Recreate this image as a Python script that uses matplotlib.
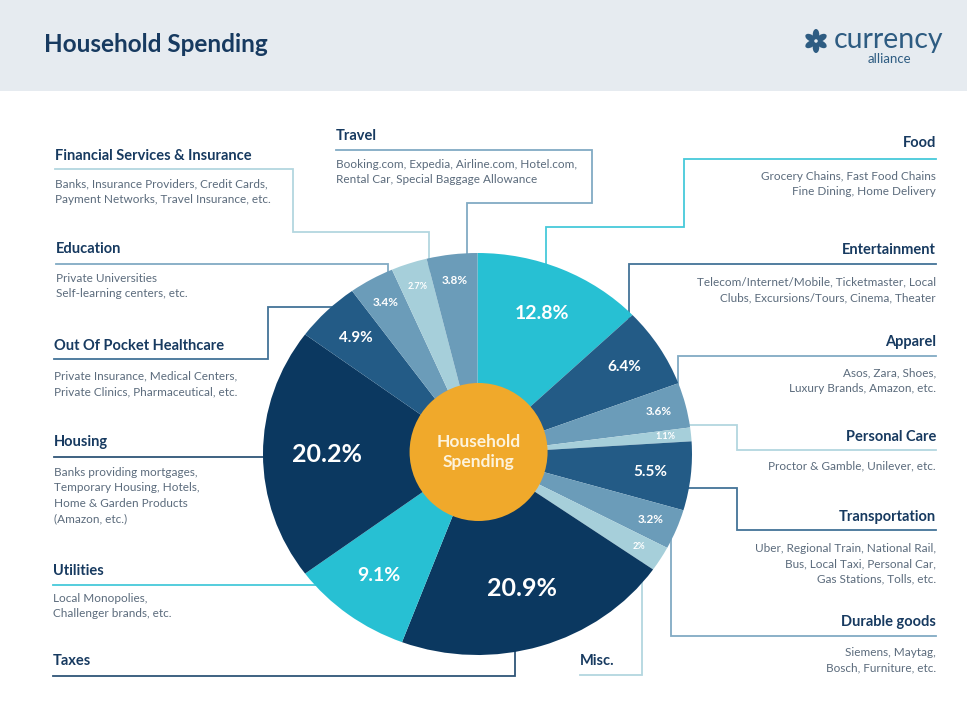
import numpy as np
import matplotlib
matplotlib.use("Agg")
import matplotlib.pyplot as plt
from matplotlib.patches import Rectangle, Ellipse

# slices, clockwise from 12 o'clock
categories = ["Food", "Entertainment", "Apparel", "Personal Care", "Transportation",
              "Durable goods", "Misc.", "Taxes", "Utilities", "Housing",
              "Out Of Pocket Healthcare", "Education",
              "Financial Services & Insurance", "Travel"]
values = [12.8, 6.4, 3.6, 1.1, 5.5, 3.2, 2, 20.9, 9.1, 20.2, 4.9, 3.4, 2.7, 3.8]
descriptions = {
    "Food": ["Grocery Chains, Fast Food Chains", "Fine Dining, Home Delivery"],
    "Entertainment": ["Telecom/Internet/Mobile, Ticketmaster, Local",
                      "Clubs, Excursions/Tours, Cinema, Theater"],
    "Apparel": ["Asos, Zara, Shoes,", "Luxury Brands, Amazon, etc."],
    "Personal Care": ["Proctor & Gamble, Unilever, etc."],
    "Transportation": ["Uber, Regional Train, National Rail,", "Bus, Local Taxi, Personal Car,",
                       "Gas Stations, Tolls, etc."],
    "Durable goods": ["Siemens, Maytag,", "Bosch, Furniture, etc."],
    "Misc.": [],
    "Taxes": [],
    "Utilities": ["Local Monopolies,", "Challenger brands, etc."],
    "Housing": ["Banks providing mortgages,", "Temporary Housing, Hotels,",
                "Home & Garden Products", "(Amazon, etc.)"],
    "Out Of Pocket Healthcare": ["Private Insurance, Medical Centers,",
                                 "Private Clinics, Pharmaceutical, etc."],
    "Education": ["Private Universities", "Self-learning centers, etc."],
    "Financial Services & Insurance": ["Banks, Insurance Providers, Credit Cards,",
                                       "Payment Networks, Travel Insurance, etc."],
    "Travel": ["Booking.com, Expedia, Airline.com, Hotel.com,",
               "Rental Car, Special Baggage Allowance"],
}

CYAN = "#27c0d3"
NAVY = "#0b3860"
MID = "#235b86"
STEEL = "#6b9cb9"
LIGHT = "#a6cfda"
colors = [CYAN, MID, STEEL, LIGHT, MID, STEEL, LIGHT, NAVY, CYAN, NAVY, MID, STEEL, LIGHT, STEEL]

HEAD = "#173a60"
DESC = "#5b6b7c"

# label layout in pixels: (x, y of heading, ha, y of first description line)
layout = {
    "Financial Services & Insurance": (55, 156, "left", 184),
    "Travel": (336, 136, "left", 164),
    "Education": (56, 249, "left", 278),
    "Out Of Pocket Healthcare": (54, 346, "left", 376),
    "Housing": (54, 442, "left", 472),
    "Utilities": (53, 571, "left", 598),
    "Taxes": (53, 661, "left", 0),
    "Misc.": (580, 661, "left", 0),
    "Food": (936, 143, "right", 176),
    "Entertainment": (936, 250, "right", 282),
    "Apparel": (936, 342, "right", 373),
    "Personal Care": (936, 437, "right", 466),
    "Transportation": (936, 517, "right", 548),
    "Durable goods": (936, 622, "right", 652),
}
connectors = {
    "Financial Services & Insurance": [(55, 169), (293, 169), (293, 232), (429, 232), (429, 290)],
    "Travel": [(336, 150), (592, 150), (592, 203), (467, 203), (467, 290)],
    "Education": [(56, 264), (388, 264), (388, 300)],
    "Out Of Pocket Healthcare": [(54, 359), (268, 359), (268, 307), (345, 307)],
    "Housing": [(54, 457), (300, 457)],
    "Utilities": [(53, 585), (330, 585)],
    "Taxes": [(53, 676), (515, 676), (515, 640)],
    "Misc.": [(580, 675), (642, 675), (642, 560)],
    "Food": [(936, 159), (684, 159), (684, 227), (546, 227), (546, 280)],
    "Entertainment": [(936, 264), (629, 264), (629, 320)],
    "Apparel": [(936, 356), (678, 356), (678, 390)],
    "Personal Care": [(936, 450), (737, 450), (737, 425), (670, 425)],
    "Transportation": [(936, 530), (737, 530), (737, 488), (670, 488)],
    "Durable goods": [(936, 636), (671, 636), (671, 520)],
}

W, H = 967, 705
fig = plt.figure(figsize=(W / 100, H / 100), dpi=100)
fig.patch.set_facecolor("white")
ax = fig.add_axes([0, 0, 1, 1])
ax.set_xlim(0, W)
ax.set_ylim(H, 0)
ax.axis("off")

# header band
ax.add_patch(Rectangle((0, 0), W, 91, color="#e6ebf0", lw=0))
ax.text(44, 45, "Household Spending", fontsize=17.5, fontweight="bold", family="Lato",
        color=HEAD, va="center", ha="left")

# logo
for k in range(6):
    a = np.deg2rad(90 + 60 * k)
    ax.add_patch(Ellipse((816 + 6.5 * np.cos(a), 41 - 6.5 * np.sin(a)), 6.5, 11,
                         angle=-(60 * k), color="#2e5c82", lw=0))
ax.add_patch(Ellipse((816, 41), 3.5, 3.5, color="#e6ebf0", lw=0))
ax.text(834, 40, "currency", fontsize=20.5, family="Lato", color="#2e5c82",
        va="center", ha="left")
ax.text(889, 59, "alliance", fontsize=9.5, family="Lato", color="#2e5c82",
        va="center", ha="center")

# connectors and labels
for cat, col in zip(categories, colors):
    pts = np.array(connectors[cat])
    ax.plot(pts[:, 0], pts[:, 1], color=col, lw=1.3, alpha=0.85, zorder=1,
            solid_joinstyle="miter")
    x, y, ha, dy = layout[cat]
    ax.text(x, y, cat, fontsize=10.5, fontweight="bold", family="Lato", color=HEAD,
            va="center", ha=ha)
    for i, line in enumerate(descriptions[cat]):
        ax.text(x, dy + i * 15.7, line, fontsize=8.5, family="Lato", color=DESC,
                va="center", ha=ha)

# pie (slightly elliptical as in the original)
cx, cy, rx, ry = 477.5, 454, 214.5, 201
pax = fig.add_axes([(cx - rx) / W, (H - cy - ry) / H, 2 * rx / W, 2 * ry / H])
pax.pie(values, colors=colors, startangle=90, counterclock=False, radius=1,
        wedgeprops=dict(linewidth=0))
pax.set_aspect("auto")
pax.set_xlim(-1, 1)
pax.set_ylim(-1, 1)
pax.axis("off")

total = sum(values)
cum = 0
for v in values:
    mid = np.deg2rad(90 - 360 * (cum + v / 2) / total)
    cum += v
    if v >= 15:
        r, fs = 0.70, 18
    elif v >= 9:
        r, fs = 0.76, 14
    elif v >= 4.5:
        r, fs = 0.81, 11
    elif v >= 3:
        r, fs = 0.87, 8.5
    else:
        r, fs = 0.88, 6.5
    pax.text(r * np.cos(mid), r * np.sin(mid), f"{v:g}%", fontsize=fs,
             fontweight="bold", family="Lato", color="white", ha="center", va="center")

pax.add_patch(Ellipse((0.005, 0.01), 2 * 69 / rx, 2 * 69 / ry, color="#f0a92b", lw=0))
pax.text(0.005, 0.01, "Household\nSpending", fontsize=12.5, fontweight="bold", family="Lato",
         color="#fdf3dc", ha="center", va="center", linespacing=1.25)

fig.savefig("out.png", dpi=100)
